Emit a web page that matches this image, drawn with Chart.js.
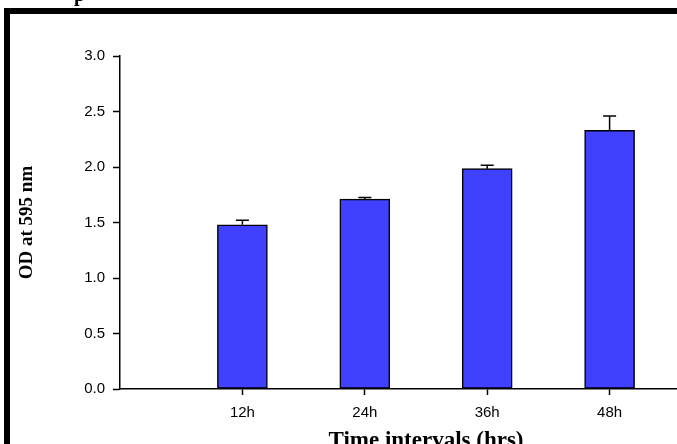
<!DOCTYPE html>
<html>
<head>
<meta charset="utf-8">
<script src="https://cdn.jsdelivr.net/npm/chart.js@4/dist/chart.umd.min.js"></script>
<style>
  html, body { margin: 0; padding: 0; background: #fff; overflow: hidden; width: 677px; height: 444px; }
  #wrap { position: relative; width: 677px; height: 444px; overflow: hidden; }
  #c { position: absolute; left: 0; top: 0; }
  .bar { position: absolute; background: #000; }
  #frag { position: absolute; left: 74px; top: -17px; font: bold 20px "Liberation Serif", serif; color: #000; }
</style>
</head>
<body>
<div id="wrap">
  <canvas id="c" width="740" height="460"></canvas>
  <div id="frag">p</div>
  <div class="bar" style="left:4px; top:8px; width:680px; height:6px;"></div>
  <div class="bar" style="left:4px; top:8px; width:6px; height:440px;"></div>
</div>
<script>
const categories = ['12h', '24h', '36h', '48h'];
const odValues = [1.48, 1.71, 1.985, 2.33];
const odErrors = [0.04, 0.015, 0.03, 0.13];
const yTickLabels = ['0.0', '0.5', '1.0', '1.5', '2.0', '2.5', '3.0'];
const xTitle = 'Time intervals (hrs)';
const yTitle = 'OD at 595 nm';

const errorBarPlugin = {
  id: 'errorBars',
  afterDatasetsDraw(chart) {
    const ctx = chart.ctx;
    const yScale = chart.scales.y;
    const meta = chart.getDatasetMeta(0);
    ctx.save();
    ctx.strokeStyle = '#000';
    ctx.lineWidth = 1.5;
    meta.data.forEach((bar, i) => {
      const top = yScale.getPixelForValue(odValues[i] + odErrors[i]);
      const base = yScale.getPixelForValue(odValues[i]);
      ctx.beginPath();
      ctx.moveTo(bar.x, base);
      ctx.lineTo(bar.x, top);
      ctx.moveTo(bar.x - 6.5, top);
      ctx.lineTo(bar.x + 6.5, top);
      ctx.stroke();
    });
    ctx.restore();
  }
};

new Chart(document.getElementById('c'), {
  type: 'bar',
  data: {
    datasets: [{
      data: categories.map((c, i) => ({ x: i + 1, y: odValues[i] })),
      backgroundColor: '#4040FF',
      borderColor: '#000',
      borderWidth: 1.5,
      borderSkipped: false,
      barThickness: 50
    }]
  },
  options: {
    responsive: false,
    animation: false,
    layout: { padding: { top: 56, right: 8, left: 0, bottom: 0 } },
    plugins: { legend: { display: false }, tooltip: { enabled: false } },
    scales: {
      x: {
        type: 'linear',
        min: 0,
        max: 5,
        offset: false,
        afterBuildTicks(scale) { scale.ticks = categories.map((c, i) => ({ value: i + 1 })); },
        afterFit(scale) { scale.height = 71; },
        grid: { offset: false, drawOnChartArea: false, color: '#000', tickLength: 6, tickWidth: 1.5 },
        border: { display: true, color: '#000', width: 1.5 },
        ticks: {
          color: '#000',
          padding: 9,
          font: { family: '"Liberation Sans", Arial, sans-serif', size: 15 },
          callback: (v) => categories[v - 1] || '',
          autoSkip: false,
          maxRotation: 0
        },
        title: {
          display: true,
          text: xTitle,
          color: '#000',
          font: { family: '"Liberation Serif", "Times New Roman", serif', size: 23, weight: 'bold' },
          padding: { top: 0, bottom: 5 }
        }
      },
      y: {
        min: 0,
        max: 3,
        afterBuildTicks(scale) { scale.ticks = yTickLabels.map((t) => ({ value: parseFloat(t) })); },
        afterFit(scale) { scale.width = 120; },
        grid: { drawOnChartArea: false, color: '#000', tickLength: 7, tickWidth: 1.5 },
        border: { display: true, color: '#000', width: 1.5 },
        ticks: {
          color: '#000',
          padding: 8,
          font: { family: '"Liberation Sans", Arial, sans-serif', size: 15 },
          callback: (v) => yTickLabels[Math.round(v * 2)]
        },
        title: {
          display: true,
          text: yTitle,
          color: '#000',
          font: { family: '"Liberation Serif", "Times New Roman", serif', size: 19, weight: 'bold' },
          padding: { top: 16, bottom: 0 }
        }
      }
    }
  },
  plugins: [errorBarPlugin]
});
</script>
</body>
</html>
